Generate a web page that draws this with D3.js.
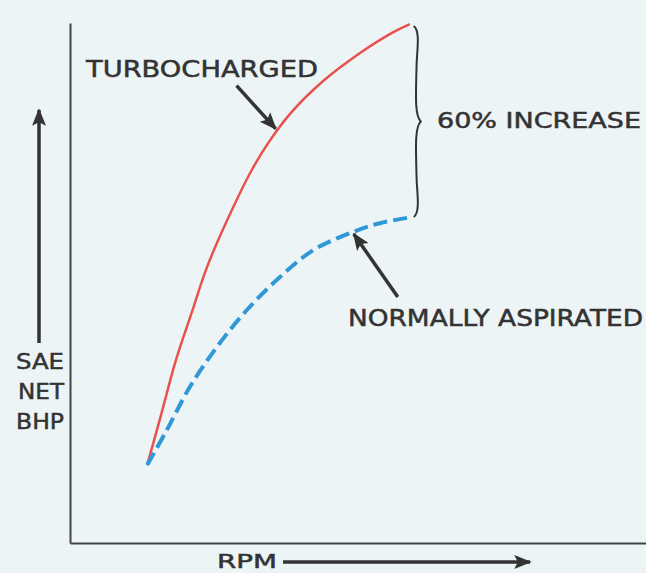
<!DOCTYPE html>
<html>
<head>
<meta charset="utf-8">
<script src="https://cdn.jsdelivr.net/npm/d3@7"></script>
<style>
  html, body { margin: 0; padding: 0; background: #edf4f6; }
  svg { display: block; }
  .lbl { font-family: "DejaVu Sans", sans-serif; fill: #333; stroke: #333; stroke-width: 0.5; }
</style>
</head>
<body>
<div id="chart"></div>
<script>
// relative rpm (0-100) and relative net bhp (0-100)
const rpmTurbo = [13.4, 15.8, 18.4, 21.1, 23.8, 27.3, 31.3, 34.4, 38.5, 43.8, 49.8, 55.9, 59.0];
const bhpTurbo = [15.0, 24.6, 35.2, 44.2, 53.1, 62.1, 71.2, 76.9, 82.9, 88.7, 93.8, 98.1, 99.8];
const rpmNA = [13.4, 16.8, 20.8, 25.5, 30.7, 36.5, 42.2, 49.1, 53.8, 59.5];
const bhpNA = [15.0, 21.7, 30.0, 37.7, 44.8, 51.2, 56.3, 59.8, 61.5, 62.7];
const seriesNames = ["TURBOCHARGED", "NORMALLY ASPIRATED"];
const increaseLabel = "60% INCREASE";
const yLabel = ["SAE", "NET", "BHP"];
const xLabel = "RPM";

const W = 646, H = 573;
const margin = {top: 23, right: 0, bottom: 30, left: 70};

const svg = d3.select("#chart").append("svg")
    .attr("width", W)
    .attr("height", H);

svg.append("rect").attr("width", W).attr("height", H).attr("fill", "#edf4f6");

const defs = svg.append("defs");
defs.append("marker")
    .attr("id", "head")
    .attr("viewBox", "0 0 10 10")
    .attr("refX", 9).attr("refY", 5)
    .attr("markerWidth", 5).attr("markerHeight", 5)
    .attr("markerUnits", "strokeWidth")
    .attr("orient", "auto")
  .append("path")
    .attr("d", "M0,1 L10,5 L0,9 L2,5 Z")
    .attr("fill", "#333");

const x = d3.scaleLinear().domain([0, 100]).range([margin.left, W - margin.right]);
const y = d3.scaleLinear().domain([0, 100]).range([H - margin.bottom, margin.top]);

// axes (no ticks, just the lines)
svg.append("g")
    .attr("transform", "translate(" + margin.left + ",0)")
    .call(d3.axisLeft(y).tickValues([]).tickSizeOuter(0))
    .select(".domain").attr("stroke", "#444").attr("stroke-width", 2);

svg.append("g")
    .attr("transform", "translate(0," + (H - margin.bottom) + ")")
    .call(d3.axisBottom(x).tickValues([]).tickSizeOuter(0))
    .select(".domain").attr("stroke", "#444").attr("stroke-width", 2);

const turbo = rpmTurbo.map((r, i) => ({r: r, b: bhpTurbo[i]}));
const na = rpmNA.map((r, i) => ({r: r, b: bhpNA[i]}));

const line = d3.line()
    .x(d => x(d.r))
    .y(d => y(d.b))
    .curve(d3.curveCatmullRom);

svg.append("path")
    .datum(turbo)
    .attr("d", line)
    .attr("fill", "none")
    .attr("stroke", "#e9524c")
    .attr("stroke-width", 2.5);

svg.append("path")
    .datum(na)
    .attr("d", line)
    .attr("fill", "none")
    .attr("stroke", "#2f98d6")
    .attr("stroke-width", 4)
    .attr("stroke-dasharray", "14,6");

// curly brace between the two end points
const tEnd = turbo[turbo.length - 1], nEnd = na[na.length - 1];
const bx = x(nEnd.r) + 3;
const by0 = y(tEnd.b) + 2, by1 = y(nEnd.b);
const bm = (by0 + by1) / 2;
svg.append("path")
    .attr("d",
      "M" + (bx - 2) + "," + by0 +
      " C" + (bx + 4) + "," + (by0 + 4) + " " + (bx + 2) + "," + (by0 + 20) + " " + (bx + 1) + "," + (by0 + 35) +
      " C" + bx + "," + (bm - 25) + " " + (bx - 1) + "," + (bm - 6) + " " + (bx + 5) + "," + bm +
      " C" + (bx - 1) + "," + (bm + 6) + " " + bx + "," + (bm + 25) + " " + (bx + 1) + "," + (by1 - 35) +
      " C" + (bx + 2) + "," + (by1 - 20) + " " + (bx + 4) + "," + (by1 - 4) + " " + (bx - 2) + "," + by1)
    .attr("fill", "none")
    .attr("stroke", "#333")
    .attr("stroke-width", 2);

svg.append("text")
    .attr("class", "lbl")
    .attr("x", 437).attr("y", 128)
    .attr("font-size", 22)
    .attr("textLength", 204).attr("lengthAdjust", "spacingAndGlyphs")
    .text(increaseLabel);

// series labels with pointer arrows
const ta = turbo[7], tb = turbo[8];
const tTip = {px: x(ta.r) + 0.4 * (x(tb.r) - x(ta.r)), py: y(ta.b) + 0.4 * (y(tb.b) - y(ta.b))};
const nTip = na[7];
svg.append("line")
    .attr("x1", tTip.px - 41).attr("y1", tTip.py - 45)
    .attr("x2", tTip.px - 2).attr("y2", tTip.py - 2)
    .attr("stroke", "#333").attr("stroke-width", 3.5)
    .attr("marker-end", "url(#head)");

svg.append("text")
    .attr("class", "lbl")
    .attr("x", 86).attr("y", 77)
    .attr("font-size", 23)
    .attr("textLength", 232).attr("lengthAdjust", "spacingAndGlyphs")
    .text(seriesNames[0]);

svg.append("line")
    .attr("x1", x(nTip.r) + 45).attr("y1", y(nTip.b) + 65)
    .attr("x2", x(nTip.r) + 1).attr("y2", y(nTip.b) + 2)
    .attr("stroke", "#333").attr("stroke-width", 3.5)
    .attr("marker-end", "url(#head)");

svg.append("text")
    .attr("class", "lbl")
    .attr("x", 348).attr("y", 326)
    .attr("font-size", 23)
    .attr("textLength", 295).attr("lengthAdjust", "spacingAndGlyphs")
    .text(seriesNames[1]);

// y axis title with up arrow
svg.append("line")
    .attr("x1", 39).attr("y1", 343)
    .attr("x2", 39).attr("y2", 110)
    .attr("stroke", "#333").attr("stroke-width", 3.5)
    .attr("marker-end", "url(#head)");

svg.append("g").selectAll("text")
  .data(yLabel)
  .join("text")
    .attr("class", "lbl")
    .attr("x", 64)
    .attr("y", (d, i) => 369 + i * 30)
    .attr("text-anchor", "end")
    .attr("font-size", 22)
    .attr("textLength", (d, i) => i === 1 ? 46 : 48)
    .attr("lengthAdjust", "spacingAndGlyphs")
    .text(d => d);

// x axis title with right arrow
svg.append("text")
    .attr("class", "lbl")
    .attr("x", 217).attr("y", 568)
    .attr("font-size", 19)
    .attr("textLength", 60).attr("lengthAdjust", "spacingAndGlyphs")
    .text(xLabel);

svg.append("line")
    .attr("x1", 283).attr("y1", 562)
    .attr("x2", 530).attr("y2", 562)
    .attr("stroke", "#333").attr("stroke-width", 3.5)
    .attr("marker-end", "url(#head)");
</script>
</body>
</html>
